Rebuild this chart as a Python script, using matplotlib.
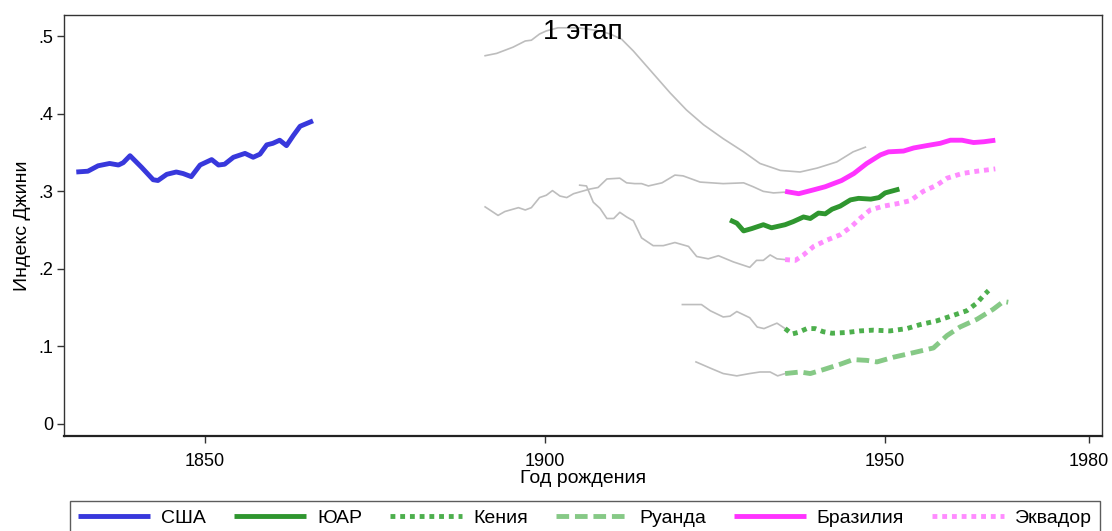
import matplotlib
matplotlib.use("Agg")
import matplotlib.pyplot as plt

plt.rcParams['font.family'] = ['Liberation Sans', 'DejaVu Sans']

# ---- data: birth year vs Gini index ----
usa_years = [1831.1, 1832.8, 1834.3, 1836.0, 1837.3, 1838.0, 1839.0, 1840.7, 1842.4, 1843.1,
             1844.4, 1845.8, 1846.8, 1848.0, 1849.3, 1851.0, 1852.0, 1852.9, 1854.2, 1855.9,
             1857.1, 1858.1, 1859.1, 1860.0, 1861.0, 1862.0, 1863.0, 1864.0, 1865.9]
usa_gini = [.325, .326, .333, .336, .334, .337, .346, .331, .315, .314,
            .322, .325, .323, .319, .334, .341, .334, .335, .344, .349,
            .344, .348, .360, .362, .366, .359, .372, .384, .391]

rsa_years = [1927.2, 1928.2, 1929.2, 1930.4, 1932.1, 1933.3, 1935.3, 1936.5, 1938.0, 1939.0,
             1940.2, 1941.2, 1942.2, 1943.4, 1944.9, 1946.1, 1947.9, 1949.1, 1950.0, 1952.1]
rsa_gini = [.263, .259, .249, .252, .257, .253, .257, .261, .267, .265,
            .272, .271, .277, .281, .289, .291, .290, .292, .298, .303]

kenya_years = [1935.3, 1936.3, 1937.2, 1938.5, 1939.7, 1940.9, 1942.2, 1944.4, 1946.3, 1948.3,
               1950.7, 1953.2, 1955.1, 1957.6, 1960.0, 1962.0, 1963.5, 1964.5, 1965.2]
kenya_gini = [.123, .116, .118, .123, .123, .119, .117, .118, .120, .121,
              .120, .123, .128, .133, .140, .146, .156, .166, .172]

rwanda_years = [1935.3, 1937.5, 1939.0, 1940.9, 1943.4, 1945.3, 1947.3, 1948.8, 1951.2, 1954.2,
                1957.1, 1959.1, 1961.0, 1963.5, 1965.9, 1967.4, 1968.1]
rwanda_gini = [.065, .067, .065, .070, .077, .083, .082, .080, .086, .092,
               .098, .114, .125, .135, .148, .158, .157]

brazil_years = [1935.3, 1937.3, 1939.5, 1941.2, 1942.7, 1943.6, 1945.4, 1947.3, 1949.3, 1950.5,
                1952.7, 1954.2, 1956.1, 1958.1, 1959.6, 1961.3, 1963.0, 1964.5, 1966.2]
brazil_gini = [.300, .297, .302, .306, .311, .314, .323, .336, .347, .351,
               .352, .356, .359, .362, .366, .366, .363, .364, .366]

ecuador_years = [1935.3, 1936.8, 1938.0, 1939.5, 1941.4, 1943.4, 1945.1, 1946.3, 1947.8, 1949.8,
                 1951.7, 1953.7, 1955.6, 1957.6, 1959.1, 1961.3, 1963.5, 1966.2]
ecuador_gini = [.212, .211, .218, .229, .237, .244, .255, .265, .276, .281,
                .284, .288, .300, .308, .317, .323, .326, .329]

# earlier-period series drawn in grey
grey_a_years = [1891.2, 1892.9, 1895.3, 1897.1, 1898.0, 1899.2, 1900.2, 1901.9, 1905.0, 1908.0,
                1909.6, 1911.3, 1913.0, 1915.4, 1918.4, 1920.8, 1923.3, 1926.2, 1929.2, 1931.6,
                1934.6, 1937.5, 1940.0, 1942.9, 1945.3, 1947.1]
grey_a_gini = [.475, .478, .486, .494, .495, .503, .507, .511, .511, .507,
               .503, .496, .481, .457, .427, .405, .386, .368, .351, .336,
               .327, .325, .330, .338, .351, .357]

grey_b_years = [1891.2, 1893.1, 1894.1, 1896.1, 1897.1, 1898.0, 1899.2, 1900.2, 1901.1, 1902.2,
                1903.2, 1904.2, 1906.6, 1907.8, 1909.1, 1911.0, 1912.0, 1913.2, 1914.2, 1915.2,
                1917.2, 1919.1, 1920.3, 1922.8, 1926.2, 1929.2, 1930.6, 1932.1, 1933.6, 1935.3]
grey_b_gini = [.280, .269, .274, .279, .276, .279, .292, .295, .301, .294,
               .292, .297, .303, .305, .316, .317, .311, .310, .310, .307,
               .311, .321, .320, .312, .310, .311, .306, .300, .298, .299]

grey_c_years = [1905.1, 1906.1, 1907.1, 1908.1, 1909.1, 1910.1, 1911.0, 1912.0, 1913.0, 1914.2,
                1915.9, 1917.4, 1919.1, 1921.1, 1922.3, 1924.0, 1925.5, 1927.7, 1930.1, 1931.1,
                1932.1, 1933.1, 1934.1, 1935.3]
grey_c_gini = [.308, .307, .286, .278, .265, .265, .273, .267, .262, .240,
               .230, .230, .234, .229, .216, .213, .217, .209, .202, .211,
               .211, .218, .213, .212]

grey_d_years = [1920.2, 1923.0, 1924.3, 1926.2, 1927.2, 1928.2, 1930.1, 1931.2, 1932.2, 1934.1, 1935.3]
grey_d_gini = [.154, .154, .146, .138, .139, .145, .137, .125, .123, .130, .123]

grey_e_years = [1922.2, 1924.3, 1926.2, 1928.2, 1930.1, 1931.6, 1933.1, 1934.2, 1935.3]
grey_e_gini = [.080, .072, .065, .062, .065, .067, .067, .062, .065]

x_ticks = [1850, 1900, 1950, 1980]
y_ticks = [0, .1, .2, .3, .4, .5]
y_tick_labels = ['0', '.1', '.2', '.3', '.4', '.5']

# ---- figure ----
fig = plt.figure(figsize=(11.12, 5.31), dpi=100)
ax = fig.add_axes([0.0576, 0.179, 0.9335, 0.792])

grey = '#bdbdbd'
for xs, ys in [(grey_a_years, grey_a_gini), (grey_b_years, grey_b_gini),
               (grey_c_years, grey_c_gini), (grey_d_years, grey_d_gini),
               (grey_e_years, grey_e_gini)]:
    ax.plot(xs, ys, color=grey, lw=1.2, zorder=1)

lw = 3.5
ax.plot(usa_years, usa_gini, color='#3838dc', lw=lw, label='США', zorder=3,
        solid_capstyle='butt')
ax.plot(rsa_years, rsa_gini, color='#2f962f', lw=lw, label='ЮАР', zorder=3,
        solid_capstyle='butt')
ax.plot(kenya_years, kenya_gini, color='#4daf4d', lw=lw, ls=(0, (1, 1)), label='Кения',
        zorder=3)
ax.plot(rwanda_years, rwanda_gini, color='#86c986', lw=lw, ls=(0, (2.6, 1.2)),
        label='Руанда', zorder=3)
ax.plot(brazil_years, brazil_gini, color='#ff33ff', lw=lw, label='Бразилия', zorder=3,
        solid_capstyle='butt')
ax.plot(ecuador_years, ecuador_gini, color='#ff8cff', lw=lw, ls=(0, (1, 1)),
        label='Эквадор', zorder=3)

ax.set_xlim(1829.3, 1981.9)
ax.set_ylim(-0.0155, 0.527)
ax.set_xticks(x_ticks)
ax.set_yticks(y_ticks)
ax.set_yticklabels(y_tick_labels)
ax.tick_params(axis='both', labelsize=13, length=5, width=1, color='#333333')
ax.tick_params(axis='y', pad=3)
ax.tick_params(axis='x', pad=7)

for side in ['top', 'right', 'left']:
    ax.spines[side].set_linewidth(1.0)
    ax.spines[side].set_color('#333333')
ax.spines['bottom'].set_linewidth(1.6)
ax.spines['bottom'].set_color('#222222')

ax.set_xlabel('Год рождения', fontsize=14, labelpad=0)
ax.set_ylabel('Индекс Джини', fontsize=14, labelpad=5)

ax.text(0.5, 0.961, '1 этап', transform=ax.transAxes, ha='center', va='center',
        fontsize=20, zorder=5)

fig.legend(loc='upper left', bbox_to_anchor=(70 / 1112, 1 - 501 / 531),
           ncol=6, fontsize=14, handlelength=3.7, handletextpad=0.57,
           columnspacing=1.44, frameon=True, fancybox=False, edgecolor='#333333',
           borderpad=0.42, borderaxespad=0.0)

fig.savefig('out.png', dpi=100)
